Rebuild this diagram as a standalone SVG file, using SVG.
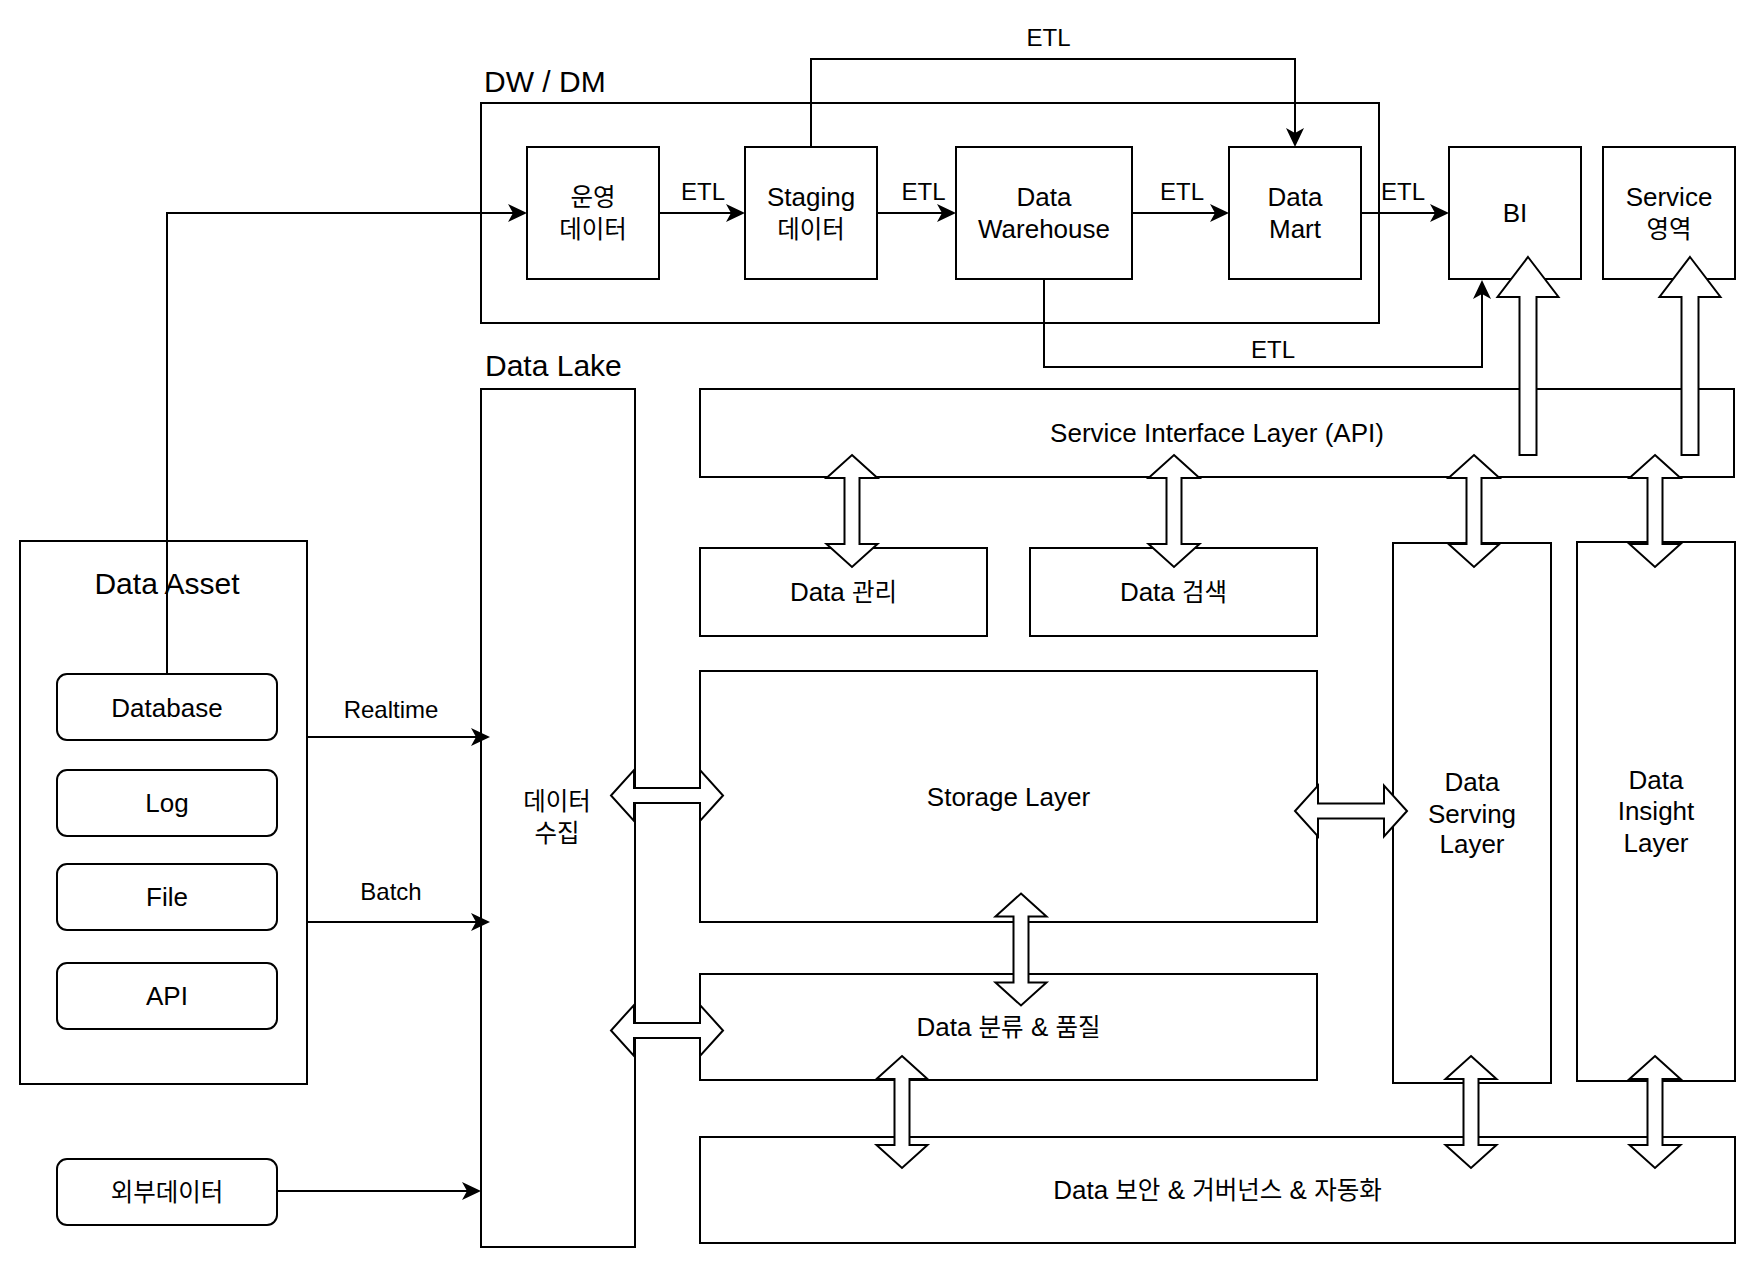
<svg xmlns="http://www.w3.org/2000/svg" xmlns:xlink="http://www.w3.org/1999/xlink" width="1760" height="1266" viewBox="0 0 1760 1266">
<style>
.box{fill:#fff;stroke:#000;stroke-width:2}
.t{font-family:'Liberation Sans','Noto Sans CJK KR',sans-serif;fill:#000;text-anchor:middle;font-size:26px}
.s{text-anchor:start}
.f24{font-size:24px}
.f30{font-size:30px}
.ko{font-family:'Noto Sans CJK KR',sans-serif;font-size:24.5px}
.ln{fill:none;stroke:#000;stroke-width:2}
.blk{fill:#fff;stroke:#000;stroke-width:2;stroke-linejoin:miter}
</style>
<defs>
<marker id="ah" markerUnits="userSpaceOnUse" markerWidth="20" markerHeight="18" refX="15" refY="9" orient="auto" viewBox="0 0 20 18">
<path d="M0,0 L19,9 L0,18 L5,9 Z" fill="#000"/>
</marker>
<polygon id="dv" class="blk" points="0,-56 25.5,-33 7.5,-33 7.5,33 25.5,33 0,56 -25.5,33 -7.5,33 -7.5,-33 -25.5,-33"/>
<polygon id="su" class="blk" points="0,0 30.5,40 8.5,40 8.5,198 -8.5,198 -8.5,40 -30.5,40"/>
</defs>
<rect width="1760" height="1266" fill="#fff"/>

<g id="dwdm">
<rect class="box" x="481" y="103" width="898" height="220"/>
<text class="t f30 s" x="484" y="92">DW / DM</text>
</g>
<g id="ops-data">
<rect class="box" x="527" y="147" width="132" height="132"/>
<text class="t ko" x="593" y="206">운영</text>
<text class="t ko" x="593" y="238">데이터</text>
</g>
<g id="staging">
<rect class="box" x="745" y="147" width="132" height="132"/>
<text class="t" x="811" y="205.5">Staging</text>
<text class="t ko" x="811" y="238">데이터</text>
</g>
<g id="warehouse">
<rect class="box" x="956" y="147" width="176" height="132"/>
<text class="t" x="1044" y="205.5">Data</text>
<text class="t" x="1044" y="237.5">Warehouse</text>
</g>
<g id="datamart">
<rect class="box" x="1229" y="147" width="132" height="132"/>
<text class="t" x="1295" y="205.5">Data</text>
<text class="t" x="1295" y="237.5">Mart</text>
</g>
<g id="bi">
<rect class="box" x="1449" y="147" width="132" height="132"/>
<text class="t" x="1515" y="222">BI</text>
</g>
<g id="service">
<rect class="box" x="1603" y="147" width="132" height="132"/>
<text class="t" x="1669" y="205.5">Service</text>
<text class="t ko" x="1669" y="238">영역</text>
</g>

<g id="datalake">
<text class="t f30 s" x="485" y="376">Data Lake</text>
<rect class="box" x="481" y="389" width="154" height="858"/>
<text class="t ko" x="557" y="810">데이터</text>
<text class="t ko" x="557" y="842">수집</text>
</g>

<g id="dataasset">
<rect class="box" x="20" y="541" width="287" height="543"/>
<text class="t f30" x="167" y="593.5">Data Asset</text>
</g>
<g id="database">
<rect class="box" x="57" y="674" width="220" height="66" rx="10"/>
<text class="t" x="167" y="716.5">Database</text>
</g>
<g id="log">
<rect class="box" x="57" y="770" width="220" height="66" rx="10"/>
<text class="t" x="167" y="812">Log</text>
</g>
<g id="file">
<rect class="box" x="57" y="864" width="220" height="66" rx="10"/>
<text class="t" x="167" y="906">File</text>
</g>
<g id="api">
<rect class="box" x="57" y="963" width="220" height="66" rx="10"/>
<text class="t" x="167" y="1005">API</text>
</g>
<g id="external">
<rect class="box" x="57" y="1159" width="220" height="66" rx="10"/>
<text class="t ko" x="167" y="1201">외부데이터</text>
</g>

<g id="sil">
<rect class="box" x="700" y="389" width="1034" height="88"/>
<text class="t" x="1217" y="442">Service Interface Layer (API)</text>
</g>
<g id="data-mgmt">
<rect class="box" x="700" y="548" width="287" height="88"/>
<text class="t" x="843.5" y="601">Data <tspan class="ko">관리</tspan></text>
</g>
<g id="data-search">
<rect class="box" x="1030" y="548" width="287" height="88"/>
<text class="t" x="1173.5" y="601">Data <tspan class="ko">검색</tspan></text>
</g>
<g id="storage">
<rect class="box" x="700" y="671" width="617" height="251"/>
<text class="t" x="1008.5" y="806">Storage Layer</text>
</g>
<g id="classify">
<rect class="box" x="700" y="974" width="617" height="106"/>
<text class="t" x="1008.5" y="1036">Data <tspan class="ko">분류</tspan> &amp; <tspan class="ko">품질</tspan></text>
</g>
<g id="security">
<rect class="box" x="700" y="1137" width="1035" height="106"/>
<text class="t" x="1217.5" y="1199">Data <tspan class="ko">보안</tspan> &amp; <tspan class="ko">거버넌스</tspan> &amp; <tspan class="ko">자동화</tspan></text>
</g>
<g id="serving">
<rect class="box" x="1393" y="543" width="158" height="540"/>
<text class="t" x="1472" y="791">Data</text>
<text class="t" x="1472" y="823">Serving</text>
<text class="t" x="1472" y="853">Layer</text>
</g>
<g id="insight">
<rect class="box" x="1577" y="542" width="158" height="539"/>
<text class="t" x="1656" y="789">Data</text>
<text class="t" x="1656" y="820">Insight</text>
<text class="t" x="1656" y="852">Layer</text>
</g>

<g id="connectors">
<path class="ln" marker-end="url(#ah)" d="M167,674 V213 H523"/>
<path class="ln" marker-end="url(#ah)" d="M659,213 H741"/>
<path class="ln" marker-end="url(#ah)" d="M877,213 H952"/>
<path class="ln" marker-end="url(#ah)" d="M1132,213 H1225"/>
<path class="ln" marker-end="url(#ah)" d="M1361,213 H1445"/>
<path class="ln" marker-end="url(#ah)" d="M811,147 V59 H1295 V143"/>
<path class="ln" marker-end="url(#ah)" d="M1044,280 V367 H1482 V284"/>
<path class="ln" marker-end="url(#ah)" d="M307,737 H486"/>
<path class="ln" marker-end="url(#ah)" d="M307,922 H486"/>
<path class="ln" marker-end="url(#ah)" d="M277,1191 H477"/>
<text class="t f24" x="703" y="200">ETL</text>
<text class="t f24" x="923.5" y="200">ETL</text>
<text class="t f24" x="1182" y="200">ETL</text>
<text class="t f24" x="1403" y="200">ETL</text>
<text class="t f24" x="1048.5" y="46">ETL</text>
<text class="t f24" x="1273" y="358">ETL</text>
<text class="t f24" x="391" y="718">Realtime</text>
<text class="t f24" x="391" y="899.5">Batch</text>

<use xlink:href="#dv" transform="translate(852,511)"/>
<use xlink:href="#dv" transform="translate(1174,511)"/>
<use xlink:href="#dv" transform="translate(1474,511)"/>
<use xlink:href="#dv" transform="translate(1655,511)"/>
<use xlink:href="#dv" transform="translate(1021,949.5)"/>
<use xlink:href="#dv" transform="translate(902,1112)"/>
<use xlink:href="#dv" transform="translate(1471,1112)"/>
<use xlink:href="#dv" transform="translate(1655,1112)"/>
<use xlink:href="#dv" transform="translate(667,795.5) rotate(90)"/>
<use xlink:href="#dv" transform="translate(667,1030.5) rotate(90)"/>
<use xlink:href="#dv" transform="translate(1351,811) rotate(90)"/>
<use xlink:href="#su" transform="translate(1528,257)"/>
<use xlink:href="#su" transform="translate(1690,257)"/>
</g>
</svg>
